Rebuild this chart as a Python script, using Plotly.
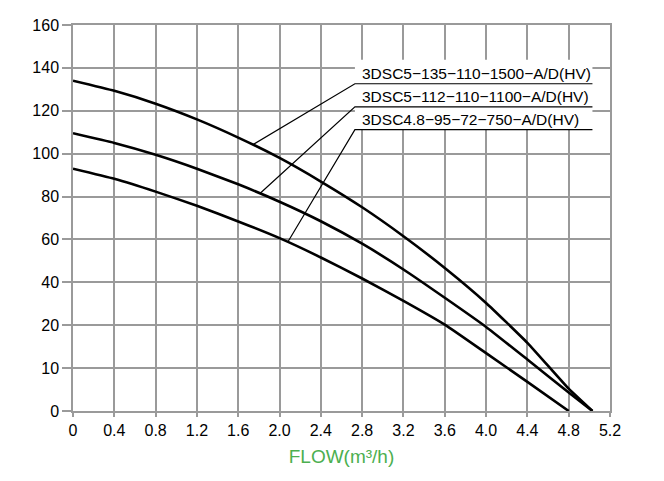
import numpy as np
import plotly.graph_objects as go

# ---- data ----
flow = [0, 0.4, 0.8, 1.2, 1.6, 2.0, 2.4, 2.8, 3.2, 3.6, 4.0, 4.4, 4.8]
flow1 = flow + [5.03]
head1 = [134, 129.3, 123.3, 116, 107.5, 98, 87, 75, 61.5, 46.7, 30.4, 15.9, 5.2, 0]
flow2 = flow + [5.03]
head2 = [109.5, 105, 99.5, 93, 85.7, 77.6, 68.5, 58, 46, 32.8, 19.6, 12, 4.3, 0]
flow3 = flow
head3 = [93, 88.3, 82.3, 75.7, 68.4, 60.6, 51.6, 41.8, 31.4, 20.3, 13.5, 6.8, 0]

names = ["3DSC5−135−110−1500−A/D(HV)",
         "3DSC5−112−110−1100−A/D(HV)",
         "3DSC4.8−95−72−750−A/D(HV)"]
leader_x = [1.74, 1.81, 2.08]       # flow where each leader meets its curve
label_y = [7.63, 7.09, 6.56]        # underline level (axis position units)

y_ticks = [0, 10, 20, 40, 60, 80, 100, 120, 140, 160]
x_ticks = [0, 0.4, 0.8, 1.2, 1.6, 2.0, 2.4, 2.8, 3.2, 3.6, 4.0, 4.4, 4.8, 5.2]
x_tick_text = ["0", "0.4", "0.8", "1.2", "1.6", "2.0", "2.4", "2.8", "3.2",
               "3.6", "4.0", "4.4", "4.8", "5.2"]


def ypos(v):
    """Piecewise head scale: 0-20 in steps of 10, above in steps of 20."""
    v = np.asarray(v, dtype=float)
    return np.where(v <= 20, v / 10.0, 2 + (v - 20) / 20.0)


fig = go.Figure()
curves = [(flow1, head1), (flow2, head2), (flow3, head3)]
for (fx, hy), nm in zip(curves, names):
    fig.add_trace(go.Scatter(x=fx, y=ypos(hy), mode="lines", name=nm,
                             line=dict(color="black", width=2.6, shape="spline", smoothing=0.4),
                             showlegend=False, hoverinfo="skip"))

lab_x0, lab_x1 = 2.73, 5.03
# white block behind the label texts (hides the grid there)
fig.add_shape(type="rect", x0=lab_x0, x1=lab_x1, y0=label_y[2], y1=8.19,
              fillcolor="white", line=dict(width=0), layer="between")

for (fx, hy), nm, lx, ly in zip(curves, names, leader_x, label_y):
    cy = float(np.interp(lx, fx, ypos(hy)))
    fig.add_trace(go.Scatter(x=[lx, lab_x0, lab_x1], y=[cy, ly, ly], mode="lines",
                             line=dict(color="black", width=1.2),
                             showlegend=False, hoverinfo="skip"))
    fig.add_annotation(x=lab_x0 + 0.05, y=ly, text=nm, showarrow=False,
                       xanchor="left", yanchor="bottom", yshift=0,
                       font=dict(family="Liberation Sans, Arial", size=15.5, color="black"))

grid = "#9a9a9a"
fig.update_xaxes(range=[0, 5.2], tickvals=x_ticks, ticktext=x_tick_text,
                 showgrid=True, gridcolor=grid, gridwidth=1.5,
                 showline=True, mirror=True, linecolor=grid, linewidth=1.5,
                 ticks="outside", ticklen=4, tickcolor=grid, tickwidth=1.5,
                 zeroline=False,
                 tickfont=dict(family="Liberation Sans, Arial", size=16, color="black"),
                 title=dict(text="FLOW(m³/h)", standoff=12,
                            font=dict(family="Liberation Sans, Arial", size=19, color="#4caf50")))
fig.update_yaxes(range=[0, 9], tickvals=list(ypos(y_ticks)), ticktext=[str(t) for t in y_ticks],
                 showgrid=True, gridcolor=grid, gridwidth=1.5,
                 showline=True, mirror=True, linecolor=grid, linewidth=1.5,
                 ticks="outside", ticklen=9, tickcolor=grid, tickwidth=1.5,
                 zeroline=False,
                 tickfont=dict(family="Liberation Sans, Arial", size=16, color="black"))
fig.update_layout(width=664, height=481, margin=dict(l=73, r=54, t=25, b=70),
                  paper_bgcolor="white", plot_bgcolor="white")
fig.write_html("out.html")
